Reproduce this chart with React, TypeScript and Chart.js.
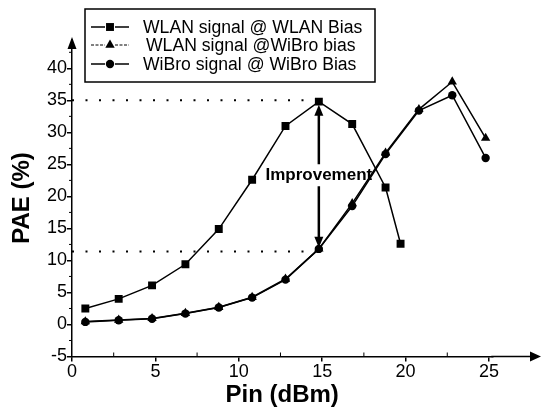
import React, { useEffect, useRef } from "react";
import { Chart, registerables } from "chart.js";

Chart.register(...registerables);

// ---- data ----
const pinWlanBias = [0.8, 2.8, 4.8, 6.8, 8.8, 10.8, 12.8, 14.8, 16.8, 18.8, 19.7];
const paeWlanAtWlanBias = [2.5, 4.0, 6.1, 9.4, 14.9, 22.6, 31.0, 34.8, 31.3, 21.4, 12.6];

const pinWibroBias = [0.8, 2.8, 4.8, 6.8, 8.8, 10.8, 12.8, 14.8, 16.8, 18.8, 20.8, 22.8, 24.8];
const paeWlanAtWibroBias = [0.45, 0.7, 0.95, 1.75, 2.7, 4.25, 7.1, 11.8, 18.9, 26.8, 33.6, 37.9, 29.1];
const paeWibroAtWibroBias = [0.4, 0.65, 0.9, 1.7, 2.65, 4.2, 7.0, 11.8, 18.5, 26.6, 33.4, 35.8, 26.0];

const seriesLabels = [
  "WLAN signal @ WLAN Bias",
  "WLAN signal @WiBro bias",
  "WiBro signal @ WiBro Bias",
];

const xTickValues = [0, 5, 10, 15, 20, 25];
const yTickValues = [-5, 0, 5, 10, 15, 20, 25, 30, 35, 40];

// reference levels (dotted) and improvement annotation
const refHigh = 35;
const refLow = 11.4;
const improvementPin = 14.8;
const improvementTop = 34.3;
const improvementBottom = 12.0;
const improvementLabelY = 23.3;
const improvementLabel = "Improvement";

const xTitle = "Pin (dBm)";
const yTitle = "PAE (%)";

const FONT = "Arial, 'Liberation Sans', sans-serif";

const toPts = (xs: number[], ys: number[]) => xs.map((x, i) => ({ x, y: ys[i] }));

function drawMarker(ctx: CanvasRenderingContext2D, style: string, x: number, y: number, r: number) {
  ctx.beginPath();
  if (style === "rect") {
    const s = r * Math.SQRT1_2;
    ctx.rect(x - s, y - s, 2 * s, 2 * s);
  } else if (style === "triangle") {
    let a = 0;
    ctx.moveTo(x + Math.sin(a) * r, y - Math.cos(a) * r);
    a += (2 * Math.PI) / 3;
    ctx.lineTo(x + Math.sin(a) * r, y - Math.cos(a) * r);
    a += (2 * Math.PI) / 3;
    ctx.lineTo(x + Math.sin(a) * r, y - Math.cos(a) * r);
    ctx.closePath();
  } else {
    ctx.arc(x, y, r, 0, Math.PI * 2);
  }
  ctx.fill();
}

function arrowHead(ctx: CanvasRenderingContext2D, tx: number, ty: number, dx: number, dy: number, len: number, half: number) {
  const bx = tx - dx * len;
  const by = ty - dy * len;
  const nx = -dy;
  const ny = dx;
  ctx.beginPath();
  ctx.moveTo(tx, ty);
  ctx.lineTo(bx + nx * half, by + ny * half);
  ctx.lineTo(bx - nx * half, by - ny * half);
  ctx.closePath();
  ctx.fill();
}

const decorPlugin = {
  id: "decor",
  afterDraw(chart: any) {
    const ctx: CanvasRenderingContext2D = chart.ctx;
    const xs = chart.scales.x;
    const ys = chart.scales.y;
    const area = chart.chartArea;
    ctx.save();
    ctx.fillStyle = "#000";
    ctx.strokeStyle = "#000";

    // axis extensions + arrowheads
    ctx.lineWidth = 1.5;
    ctx.beginPath();
    ctx.moveTo(area.right - 1, area.bottom);
    ctx.lineTo(532, area.bottom);
    ctx.stroke();
    arrowHead(ctx, 541, area.bottom, 1, 0, 11, 5);
    ctx.beginPath();
    ctx.moveTo(area.left, area.top + 1);
    ctx.lineTo(area.left, 46);
    ctx.stroke();
    arrowHead(ctx, area.left, 37, 0, -1, 12, 4.5);

    // minor ticks
    ctx.lineWidth = 1;
    for (let v = 2.5; v < 27; v += 5) {
      const px = xs.getPixelForValue(v);
      ctx.beginPath();
      ctx.moveTo(px, area.bottom);
      ctx.lineTo(px, area.bottom - 4);
      ctx.stroke();
    }
    for (let v = -2.5; v < 44; v += 5) {
      const py = ys.getPixelForValue(v);
      ctx.beginPath();
      ctx.moveTo(area.left, py);
      ctx.lineTo(area.left - 3, py);
      ctx.stroke();
    }

    // improvement arrow
    const ax = xs.getPixelForValue(improvementPin);
    const yTop = ys.getPixelForValue(improvementTop);
    const yBot = ys.getPixelForValue(improvementBottom);
    const yLab = ys.getPixelForValue(improvementLabelY);
    ctx.lineWidth = 2.5;
    ctx.beginPath();
    ctx.moveTo(ax, yTop + 9);
    ctx.lineTo(ax, yLab - 11);
    ctx.moveTo(ax, yLab + 11);
    ctx.lineTo(ax, yBot - 9);
    ctx.stroke();
    arrowHead(ctx, ax, yTop, 0, -1, 11, 4.5);
    arrowHead(ctx, ax, yBot, 0, 1, 11, 4.5);
    ctx.font = `bold 17px ${FONT}`;
    ctx.textAlign = "center";
    ctx.textBaseline = "middle";
    ctx.fillText(improvementLabel, ax, yLab);

    // legend box
    const bx = 85, by = 9, bw = 290, bh = 73;
    ctx.fillStyle = "#fff";
    ctx.fillRect(bx, by, bw, bh);
    ctx.fillStyle = "#000";
    ctx.lineWidth = 1.5;
    ctx.strokeRect(bx, by, bw, bh);
    const rows = [27, 45, 64];
    const ds = chart.data.datasets.filter((d: any) => d.label);
    ctx.font = `17.6px ${FONT}`;
    ctx.textAlign = "left";
    ctx.textBaseline = "middle";
    ds.forEach((d: any, i: number) => {
      const y = rows[i];
      ctx.lineWidth = i === 1 ? 1 : 1.5;
      ctx.setLineDash(i === 1 ? [3, 1.5] : []);
      ctx.beginPath();
      ctx.moveTo(91, y);
      ctx.lineTo(105, y);
      ctx.moveTo(115, y);
      ctx.lineTo(129, y);
      ctx.stroke();
      ctx.setLineDash([]);
      drawMarker(ctx, d.pointStyle, 110, y, d.pointRadius);
      ctx.fillText(d.label, i === 1 ? 146 : 143, y + 1);
    });
    ctx.restore();
  },
};

export default function App() {
  const ref = useRef<HTMLCanvasElement | null>(null);
  useEffect(() => {
    if (!ref.current) return;
    const dotted = {
      borderColor: "#000",
      borderWidth: 2,
      borderDash: [2, 11.5],
      pointRadius: 0,
      fill: false,
    };
    const chart = new Chart(ref.current, {
      type: "line",
      data: {
        datasets: [
          {
            data: [{ x: 0, y: refHigh }, { x: improvementPin, y: refHigh }],
            ...dotted,
          } as any,
          {
            data: [{ x: 0, y: refLow }, { x: improvementPin, y: refLow }],
            ...dotted,
          } as any,
          {
            label: seriesLabels[0],
            data: toPts(pinWlanBias, paeWlanAtWlanBias),
            borderColor: "#000",
            backgroundColor: "#000",
            borderWidth: 1.5,
            pointStyle: "rect",
            pointRadius: 5.6,
            pointBorderWidth: 0,
            tension: 0,
          },
          {
            label: seriesLabels[1],
            data: toPts(pinWibroBias, paeWlanAtWibroBias),
            borderColor: "#000",
            backgroundColor: "#000",
            borderWidth: 1.5,
            pointStyle: "triangle",
            pointRadius: 5.4,
            pointBorderWidth: 0,
            tension: 0,
          },
          {
            label: seriesLabels[2],
            data: toPts(pinWibroBias, paeWibroAtWibroBias),
            borderColor: "#000",
            backgroundColor: "#000",
            borderWidth: 1.5,
            pointStyle: "circle",
            pointRadius: 4.2,
            pointBorderWidth: 0,
            tension: 0,
          },
        ],
      },
      options: {
        animation: false,
        responsive: false,
        maintainAspectRatio: false,
        layout: { padding: { left: 0, top: 39.5, right: 49.7, bottom: 0 } },
        plugins: { legend: { display: false }, tooltip: { enabled: false } },
        scales: {
          x: {
            type: "linear",
            min: 0,
            max: 25.2,
            afterFit: (s: any) => { s.height = 53.5; },
            afterBuildTicks: (s: any) => { s.ticks = xTickValues.map((v) => ({ value: v })); },
            ticks: { color: "#000", font: { family: FONT, size: 18 }, padding: 0, includeBounds: false, maxRotation: 0 },
            grid: { display: true, drawOnChartArea: false, drawTicks: true, tickLength: 5, color: "#000", lineWidth: 1.5 },
            border: { display: true, color: "#000", width: 1.5 },
            title: { display: true, text: xTitle, color: "#000", font: { family: FONT, size: 24, weight: "bold" }, padding: { top: 0, bottom: 0 } },
          },
          y: {
            type: "linear",
            min: -5,
            max: 44.5,
            afterFit: (s: any) => { s.width = 72; },
            afterBuildTicks: (s: any) => { s.ticks = yTickValues.map((v) => ({ value: v })); },
            ticks: { color: "#000", font: { family: FONT, size: 18 }, padding: 0, includeBounds: false },
            grid: { display: true, drawOnChartArea: false, drawTicks: true, tickLength: 5, color: "#000", lineWidth: 1.5 },
            border: { display: true, color: "#000", width: 1.5 },
            title: { display: true, text: yTitle, color: "#000", font: { family: FONT, size: 24, weight: "bold" }, padding: { top: 7.6, bottom: 0 } },
          },
        },
      } as any,
      plugins: [decorPlugin],
    });
    return () => chart.destroy();
  }, []);
  return (
    <div style={{ position: "absolute", left: 0, top: 0, width: 542, height: 410, background: "#fff" }}>
      <canvas ref={ref} width={542} height={410} style={{ display: "block" }} />
    </div>
  );
}
